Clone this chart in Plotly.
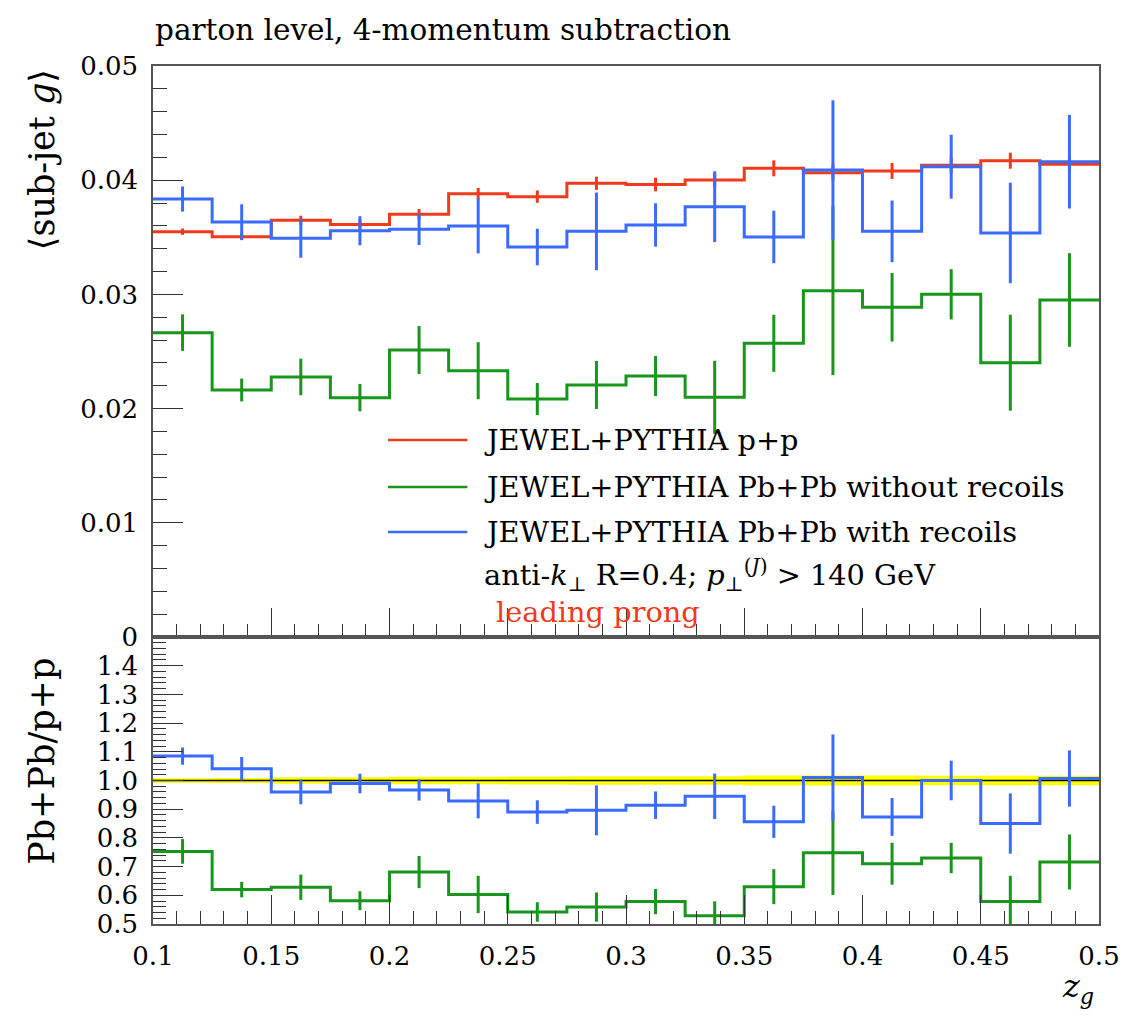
import plotly.graph_objects as go

# ---------------- data ----------------
edges = [0.1, 0.125, 0.15, 0.175, 0.2, 0.225, 0.25, 0.275, 0.3, 0.325,
         0.35, 0.375, 0.4, 0.425, 0.45, 0.475, 0.5]

pp = [0.03549, 0.03505, 0.03649, 0.03613, 0.03701, 0.03882, 0.03856, 0.03973,
      0.03962, 0.04002, 0.04104, 0.04066, 0.04081, 0.04130, 0.04171, 0.04139]
pp_err = [0.00028, 0.0003, 0.0004, 0.0004, 0.00047, 0.0005, 0.00054, 0.00058,
          0.0006, 0.0006, 0.0007, 0.0007, 0.0007, 0.0007, 0.0007, 0.0007]

norec = [0.02665, 0.02163, 0.02277, 0.02096, 0.02513, 0.02332, 0.02084, 0.02207,
         0.02285, 0.02099, 0.02572, 0.03033, 0.02887, 0.03001, 0.02402, 0.02951]
norec_err = [0.0016, 0.0010, 0.0016, 0.0012, 0.0021, 0.0025, 0.0014, 0.0021,
             0.00175, 0.0032, 0.0025, 0.0074, 0.0030, 0.0022, 0.0042, 0.0041]

rec = [0.03835, 0.03634, 0.03491, 0.03558, 0.03570, 0.03599, 0.03415, 0.03552,
       0.03608, 0.03768, 0.03503, 0.04089, 0.03552, 0.04118, 0.03538, 0.04162]
rec_err = [0.0011, 0.00155, 0.0017, 0.00127, 0.00137, 0.0024, 0.0016, 0.0034,
           0.0019, 0.0031, 0.0023, 0.0061, 0.0027, 0.0028, 0.0044, 0.0041]

ratio_norec = [0.753, 0.620, 0.628, 0.581, 0.681, 0.603, 0.542, 0.559,
               0.578, 0.529, 0.630, 0.748, 0.710, 0.730, 0.578, 0.716]
ratio_norec_err = [0.043, 0.027, 0.044, 0.033, 0.056, 0.065, 0.034, 0.051,
                   0.044, 0.050, 0.061, 0.147, 0.073, 0.053, 0.090, 0.096]

ratio_rec = [1.085, 1.041, 0.960, 0.9895, 0.967, 0.929, 0.890, 0.896,
             0.914, 0.945, 0.856, 1.0105, 0.873, 1.000, 0.850, 1.007]
ratio_rec_err = [0.030, 0.041, 0.043, 0.034, 0.037, 0.061, 0.041, 0.087,
                 0.048, 0.079, 0.056, 0.150, 0.066, 0.069, 0.105, 0.098]

top_ticks = [0, 0.01, 0.02, 0.03, 0.04, 0.05]
top_ticktext = ["0", "0.01", "0.02", "0.03", "0.04", "0.05"]
ratio_ticks = [0.5, 0.6, 0.7, 0.8, 0.9, 1.0, 1.1, 1.2, 1.3, 1.4]
ratio_ticktext = ["0.5", "0.6", "0.7", "0.8", "0.9", "1.0", "1.1", "1.2", "1.3", "1.4"]
x_ticks = [0.1, 0.15, 0.2, 0.25, 0.3, 0.35, 0.4, 0.45, 0.5]
x_ticktext = ["0.1", "0.15", "0.2", "0.25", "0.3", "0.35", "0.4", "0.45", "0.5"]

labels = ["JEWEL+PYTHIA p+p",
          "JEWEL+PYTHIA Pb+Pb without recoils",
          "JEWEL+PYTHIA Pb+Pb with recoils"]

# ---------------- style ----------------
RED = "#f03a1c"
GREEN = "#17961b"
BLUE = "#3a6bff"
FONT = "DejaVu Serif"
FRAME = "#555555"
TICKC = "#333333"
TICKFS = 26
TXTFS = 29.5
LEGFS = 28.8
AXFS = 35

centers = [(edges[i] + edges[i + 1]) / 2 for i in range(len(edges) - 1)]

fig = go.Figure()


def add_hist(vals, errs, color, xa, ya):
    fig.add_trace(go.Scatter(
        x=edges, y=list(vals) + [vals[-1]], mode="lines", line_shape="hv",
        line=dict(color=color, width=3), xaxis=xa, yaxis=ya,
        showlegend=False, hoverinfo="skip"))
    fig.add_trace(go.Scatter(
        x=centers, y=vals, mode="markers", marker=dict(size=1, opacity=0),
        error_y=dict(type="data", array=errs, thickness=3, width=0, color=color),
        xaxis=xa, yaxis=ya, showlegend=False, hoverinfo="skip"))


# top panel
add_hist(pp, pp_err, RED, "x", "y")
add_hist(norec, norec_err, GREEN, "x", "y")
add_hist(rec, rec_err, BLUE, "x", "y")

# ratio panel: yellow band from p+p relative uncertainty
rel = [e / v for e, v in zip(pp_err, pp)]
lo = [1 - r for r in rel]
hi = [1 + r for r in rel]
fig.add_trace(go.Scatter(x=edges, y=lo + [lo[-1]], mode="lines", line_shape="hv",
                         line=dict(width=0, color="#ffff00"), xaxis="x2", yaxis="y2",
                         showlegend=False, hoverinfo="skip"))
fig.add_trace(go.Scatter(x=edges, y=hi + [hi[-1]], mode="lines", line_shape="hv",
                         line=dict(width=0, color="#ffff00"), fill="tonexty",
                         fillcolor="#ffff00", xaxis="x2", yaxis="y2",
                         showlegend=False, hoverinfo="skip"))
ones = [v / v for v in pp]
fig.add_trace(go.Scatter(x=edges, y=ones + [ones[-1]], mode="lines", line_shape="hv",
                         line=dict(color="black", width=1.3), xaxis="x2", yaxis="y2",
                         showlegend=False, hoverinfo="skip"))
add_hist(ratio_norec, ratio_norec_err, GREEN, "x2", "y2")
add_hist(ratio_rec, ratio_rec_err, BLUE, "x2", "y2")

split = 0.3345

axis_common = dict(showgrid=False, zeroline=False, showline=True, mirror=True,
                   linecolor=FRAME, linewidth=1.5, ticks="inside", tickcolor=TICKC,
                   tickwidth=1, tickfont=dict(family=FONT, size=TICKFS, color="black"))

fig.update_layout(
    width=1132, height=1019,
    margin=dict(l=153, r=25, t=66, b=95),
    paper_bgcolor="white", plot_bgcolor="white",
    showlegend=False,
    xaxis=dict(axis_common, domain=[0, 1], anchor="y", range=[0.1, 0.5],
               tickvals=x_ticks, showticklabels=False, ticklen=29,
               minor=dict(dtick=0.01, tick0=0.1, ticklen=13, ticks="inside",
                          tickcolor=TICKC, showgrid=False)),
    yaxis=dict(axis_common, domain=[split, 1], anchor="x", range=[0, 0.05],
               tickvals=top_ticks, ticktext=top_ticktext, ticklen=30,
               ticklabelstandoff=8,
               minor=dict(dtick=0.002, tick0=0, ticklen=14, ticks="inside",
                          tickcolor=TICKC, showgrid=False)),
    xaxis2=dict(axis_common, domain=[0, 1], anchor="y2", range=[0.1, 0.5],
                matches="x", tickvals=x_ticks, ticktext=x_ticktext, ticklen=29,
                ticklabelstandoff=8,
                minor=dict(dtick=0.01, tick0=0.1, ticklen=13, ticks="inside",
                           tickcolor=TICKC, showgrid=False)),
    yaxis2=dict(axis_common, domain=[0, split], anchor="x2", range=[0.5, 1.5],
                tickvals=ratio_ticks, ticktext=ratio_ticktext, ticklen=30,
                ticklabelstandoff=8,
                minor=dict(dtick=0.02, tick0=0.5, ticklen=13, ticks="inside",
                           tickcolor=TICKC, showgrid=False)),
)

ann = []
# title
ann.append(dict(text="parton level, 4-momentum subtraction", xref="paper", yref="paper",
                x=0, y=1.042, xanchor="left", yanchor="middle", showarrow=False,
                font=dict(family=FONT, size=TXTFS, color="black")))
# y titles
ann.append(dict(text="⟨sub-jet <i>g</i>⟩", xref="paper", yref="paper",
                x=0, xshift=-111, y=0.998, xanchor="center", yanchor="top",
                textangle=-90, showarrow=False,
                font=dict(family=FONT, size=AXFS, color="black")))
ann.append(dict(text="Pb+Pb/p+p", xref="paper", yref="paper",
                x=0, xshift=-111, y=0.189, xanchor="center", yanchor="middle",
                textangle=-90, showarrow=False,
                font=dict(family=FONT, size=AXFS, color="black")))
# x title
ann.append(dict(text="<i>z</i><sub><i>g</i></sub>", xref="paper", yref="paper",
                x=0.978, y=-0.075, xanchor="center", yanchor="middle", showarrow=False,
                font=dict(family=FONT, size=32, color="black")))

# legend (lines + text)
leg_y = [0.5641, 0.5093, 0.4569]
leg_c = [RED, GREEN, BLUE]
shapes = []
for yy, cc, lab in zip(leg_y, leg_c, labels):
    shapes.append(dict(type="line", xref="paper", yref="paper",
                       x0=0.2484, x1=0.3323, y0=yy, y1=yy,
                       line=dict(color=cc, width=2.5)))
    ann.append(dict(text=lab, xref="paper", yref="paper", x=0.348, y=yy,
                    xanchor="left", yanchor="middle", showarrow=False,
                    font=dict(family=FONT, size=LEGFS, color="black")))
ann.append(dict(text="anti-<i>k</i><sub>⊥</sub> R=0.4; <i>p</i><sub>⊥</sub><sup>(<i>J</i>)</sup> > 140 GeV",
                xref="paper", yref="paper", x=0.348, y=0.4068,
                xanchor="left", yanchor="middle", showarrow=False,
                font=dict(family=FONT, size=LEGFS, color="black")))
ann.append(dict(text="leading prong", xref="paper", yref="paper", x=0.360, y=0.3636,
                xanchor="left", yanchor="middle", showarrow=False,
                font=dict(family=FONT, size=LEGFS, color=RED)))

fig.update_layout(annotations=ann, shapes=shapes)

fig.write_html("out.html")
